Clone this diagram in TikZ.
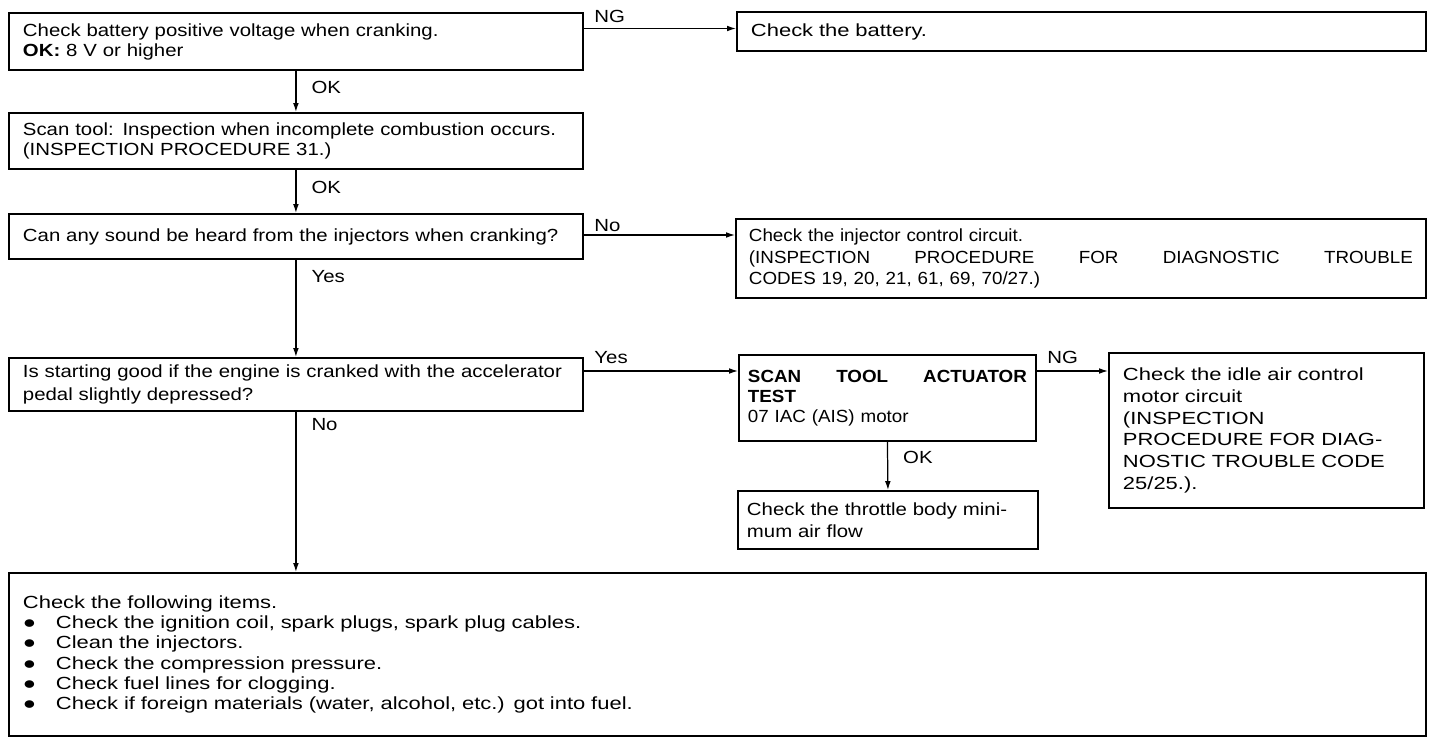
\documentclass[tikz,border=0pt]{standalone}
\usepackage{fontspec}
\setmainfont[FakeStretch=1.16]{Liberation Sans}
\newfontfamily\widefont[FakeStretch=1.25]{Liberation Sans}
\newfontfamily\narrowfont[FakeStretch=1.07]{Liberation Sans}
\usetikzlibrary{arrows.meta,positioning,calc}

\begin{document}
\begin{tikzpicture}[x=0.02cm,y=-0.02cm,
  box/.style={draw,line width=1.1pt,anchor=north west,align=left,inner xsep=0.28cm,inner ysep=0pt,font=\fontsize{10}{11.2}\selectfont},
  arr/.style={line width=0.7pt,-{Latex[length=5pt,width=3.2pt]}},
  lbl/.style={font=\fontsize{10}{11}\selectfont,inner sep=0pt}]
  \useasboundingbox (0,0) rectangle (1440,746);
  \node[box,text width=10.92cm,minimum height=1.13cm] (bat) at (8,12.5) {Check battery positive voltage when cranking.\\\textbf{OK:} 8 V or higher};
  \node[box,text width=13.22cm,minimum height=0.78cm,font=\widefont\fontsize{10}{11.2}\selectfont] (chkbat) at (736,11) {Check the battery.};
  \node[box,text width=10.92cm,minimum height=1.12cm] (scan) at (8,112) {Scan tool: Inspection when incomplete combustion occurs.\\(INSPECTION PROCEDURE 31.)};
  \node[box,text width=10.92cm,minimum height=0.90cm] (sound) at (8,213) {Can any sound be heard from the injectors when cranking?};
  \node[box,text width=13.28cm,inner xsep=0.26cm,minimum height=1.58cm,font=\narrowfont\fontsize{10}{12}\selectfont] (injc) at (735,218) {Check the injector control circuit.\\(INSPECTION\hfill PROCEDURE\hfill FOR\hfill DIAGNOSTIC\hfill TROUBLE\\CODES 19, 20, 21, 61, 69, 70/27.)};
  \node[box,text width=10.92cm,minimum height=1.06cm,font=\fontsize{10}{13}\selectfont] (accel) at (8,357) {Is starting good if the engine is cranked with the accelerator\\pedal slightly depressed?};
  \node[box,text width=5.58cm,inner xsep=0.18cm,minimum height=1.72cm,font=\narrowfont\fontsize{10}{11.4}\selectfont] (act) at (738,354) {\textbf{SCAN\hfill TOOL\hfill ACTUATOR}\\\textbf{TEST}\\07 IAC (AIS) motor};
  \node[box,text width=5.74cm,minimum height=3.10cm,font=\widefont\fontsize{10}{12.3}\selectfont] (iac) at (1108,352) {Check the idle air control\\motor circuit\\(INSPECTION\\PROCEDURE FOR DIAG-\\NOSTIC TROUBLE CODE\\25/25.).};
  \node[box,text width=5.64cm,inner xsep=0.18cm,minimum height=1.16cm,font=\fontsize{10}{12.5}\selectfont] (thr) at (737,490) {Check the throttle body mini-\\mum air flow};
  \node[box,text width=27.78cm,minimum height=3.26cm,font=\widefont\fontsize{10}{11.4}\selectfont] (items) at (8,572) {Check the following items.\\
    \makebox[0.66cm][l]{●}Check the ignition coil, spark plugs, spark plug cables.\\
    \makebox[0.66cm][l]{●}Clean the injectors.\\
    \makebox[0.66cm][l]{●}Check the compression pressure.\\
    \makebox[0.66cm][l]{●}Check fuel lines for clogging.\\
    \makebox[0.66cm][l]{●}Check if foreign materials (water, alcohol, etc.) got into fuel.};

  \coordinate (nglev) at (0,28.5);
  \coordinate (nolev) at (0,235);
  \coordinate (yeslev) at (0,371);
  \draw[arr] (bat.east |- nglev) -- (chkbat.west |- nglev) node[lbl,anchor=base west,pos=0,xshift=0.2cm,yshift=3.2pt]{NG};
  \draw[arr] (bat.south) -- (scan.north) node[lbl,anchor=west,pos=.4,xshift=0.3cm]{OK};
  \draw[arr] (scan.south) -- (sound.north) node[lbl,anchor=west,pos=.4,xshift=0.3cm]{OK};
  \draw[arr] (sound.east |- nolev) -- (injc.west |- nolev) node[lbl,anchor=base west,pos=0,xshift=0.2cm,yshift=2pt]{No};
  \draw[arr] (sound.south) -- (accel.north) node[lbl,anchor=north west,pos=0,xshift=0.3cm,yshift=-0.2cm]{Yes};
  \draw[arr] (accel.east |- yeslev) -- (act.west |- yeslev) node[lbl,anchor=base west,pos=0,xshift=0.2cm,yshift=4.5pt]{Yes};
  \draw[arr] (act.east |- yeslev) -- (iac.west |- yeslev) node[lbl,anchor=base west,pos=0,xshift=0.2cm,yshift=4.5pt]{NG};
  \draw[arr] (act.south) -- (thr.north) node[lbl,anchor=west,pos=.33,xshift=0.3cm]{OK};
  \draw[arr] (accel.south) -- (accel.south |- items.north) node[lbl,anchor=north west,pos=0,xshift=0.3cm,yshift=-0.12cm]{No};
\end{tikzpicture}
\end{document}
